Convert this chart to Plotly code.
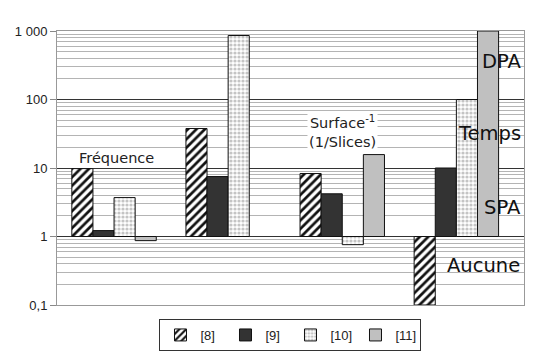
import plotly.graph_objects as go

categories = ["Fréquence", "kP/s", "Surface", "Protection"]
series_names = ["[8]", "[9]", "[10]", "[11]"]
values_8 = [9.8, 37.7, 8.3, 0.1]
values_9 = [1.22, 7.5, 4.2, 10]
values_10 = [3.7, 860, 0.76, 100]
values_11 = [0.87, None, 15.7, 1000]
tick_vals = [0.1, 1, 10, 100, 1000]
tick_text = ["0,1", "1", "10", "100", "1 000"]

series = [values_8, values_9, values_10, values_11]
styles = [
    dict(color="white", pattern=dict(shape="/", fgcolor="#111111", bgcolor="white", size=6, solidity=0.45, fgopacity=1)),
    dict(color="#333333"),
    dict(color="white", pattern=dict(shape=".", fgcolor="#c4c4c4", bgcolor="white", size=4, solidity=0.5, fgopacity=1)),
    dict(color="#c0c0c0"),
]

fig = go.Figure()
BASE = 1.0
for name, vals, st in zip(series_names, series, styles):
    sizes = [None if v is None else v - BASE for v in vals]
    fig.add_trace(go.Bar(
        x=categories, y=sizes, base=BASE, name=name,
        marker=dict(line=dict(color="#111111", width=1), **st),
    ))

fig.update_layout(
    width=533, height=351,
    margin=dict(l=57, r=9, t=31, b=46, autoexpand=False),
    plot_bgcolor="white", paper_bgcolor="white",
    barmode="group", bargap=0.26, bargroupgap=0,
    showlegend=True,
    legend=dict(orientation="h", x=0.545, xanchor="center", xref="container",
                y=-0.01, yanchor="bottom", yref="container",
                bordercolor="#333333", borderwidth=1,
                font=dict(family="Liberation Sans", size=13, color="#222"),
                itemwidth=30, entrywidth=20, tracegroupgap=0),
    font=dict(family="DejaVu Sans", size=14.5, color="#222"),
)
fig.update_xaxes(showticklabels=False, ticks="", showgrid=False, showline=True, linecolor="#999999",
                 mirror=True, zeroline=False)
fig.update_yaxes(type="log", range=[-1, 3], tickvals=tick_vals, ticktext=tick_text,
                 ticks="outside", ticklen=6, tickcolor="#888", showline=True, linecolor="#999999", mirror=True,
                 showgrid=True, gridcolor="#333333", gridwidth=1,
                 tickfont=dict(family="Liberation Sans", size=13, color="#222"),
                 minor=dict(dtick="D1", showgrid=True, gridcolor="#b4b4b4", gridwidth=1, ticks=""))

ann = [
    dict(x=0.94, y=3.15, text="kP/s"),
    dict(x=3.07, y=3.2, text="Protection"),
    dict(x=0.02, y=1.15, text="Fréquence", bgcolor="white"),
    dict(x=2.0, y=1.53, text="Surface<sup>-1</sup><br>(1/Slices)", bgcolor="white"),
    dict(x=3.40, y=2.555, text="DPA", font=dict(size=19.5, color="#111")),
    dict(x=3.29, y=1.50, text="Temps", font=dict(size=19.5, color="#111")),
    dict(x=3.40, y=0.43, text="SPA", font=dict(size=19.5, color="#111")),
    dict(x=3.24, y=-0.42, text="Aucune", font=dict(size=19.5, color="#111")),
]
for a in ann:
    fig.add_annotation(xref="x", yref="y", showarrow=False, **a)

fig.write_html("out.html", config={"displayModeBar": False},
               post_script="document.body.style.margin='0';document.body.style.overflow='hidden';")
